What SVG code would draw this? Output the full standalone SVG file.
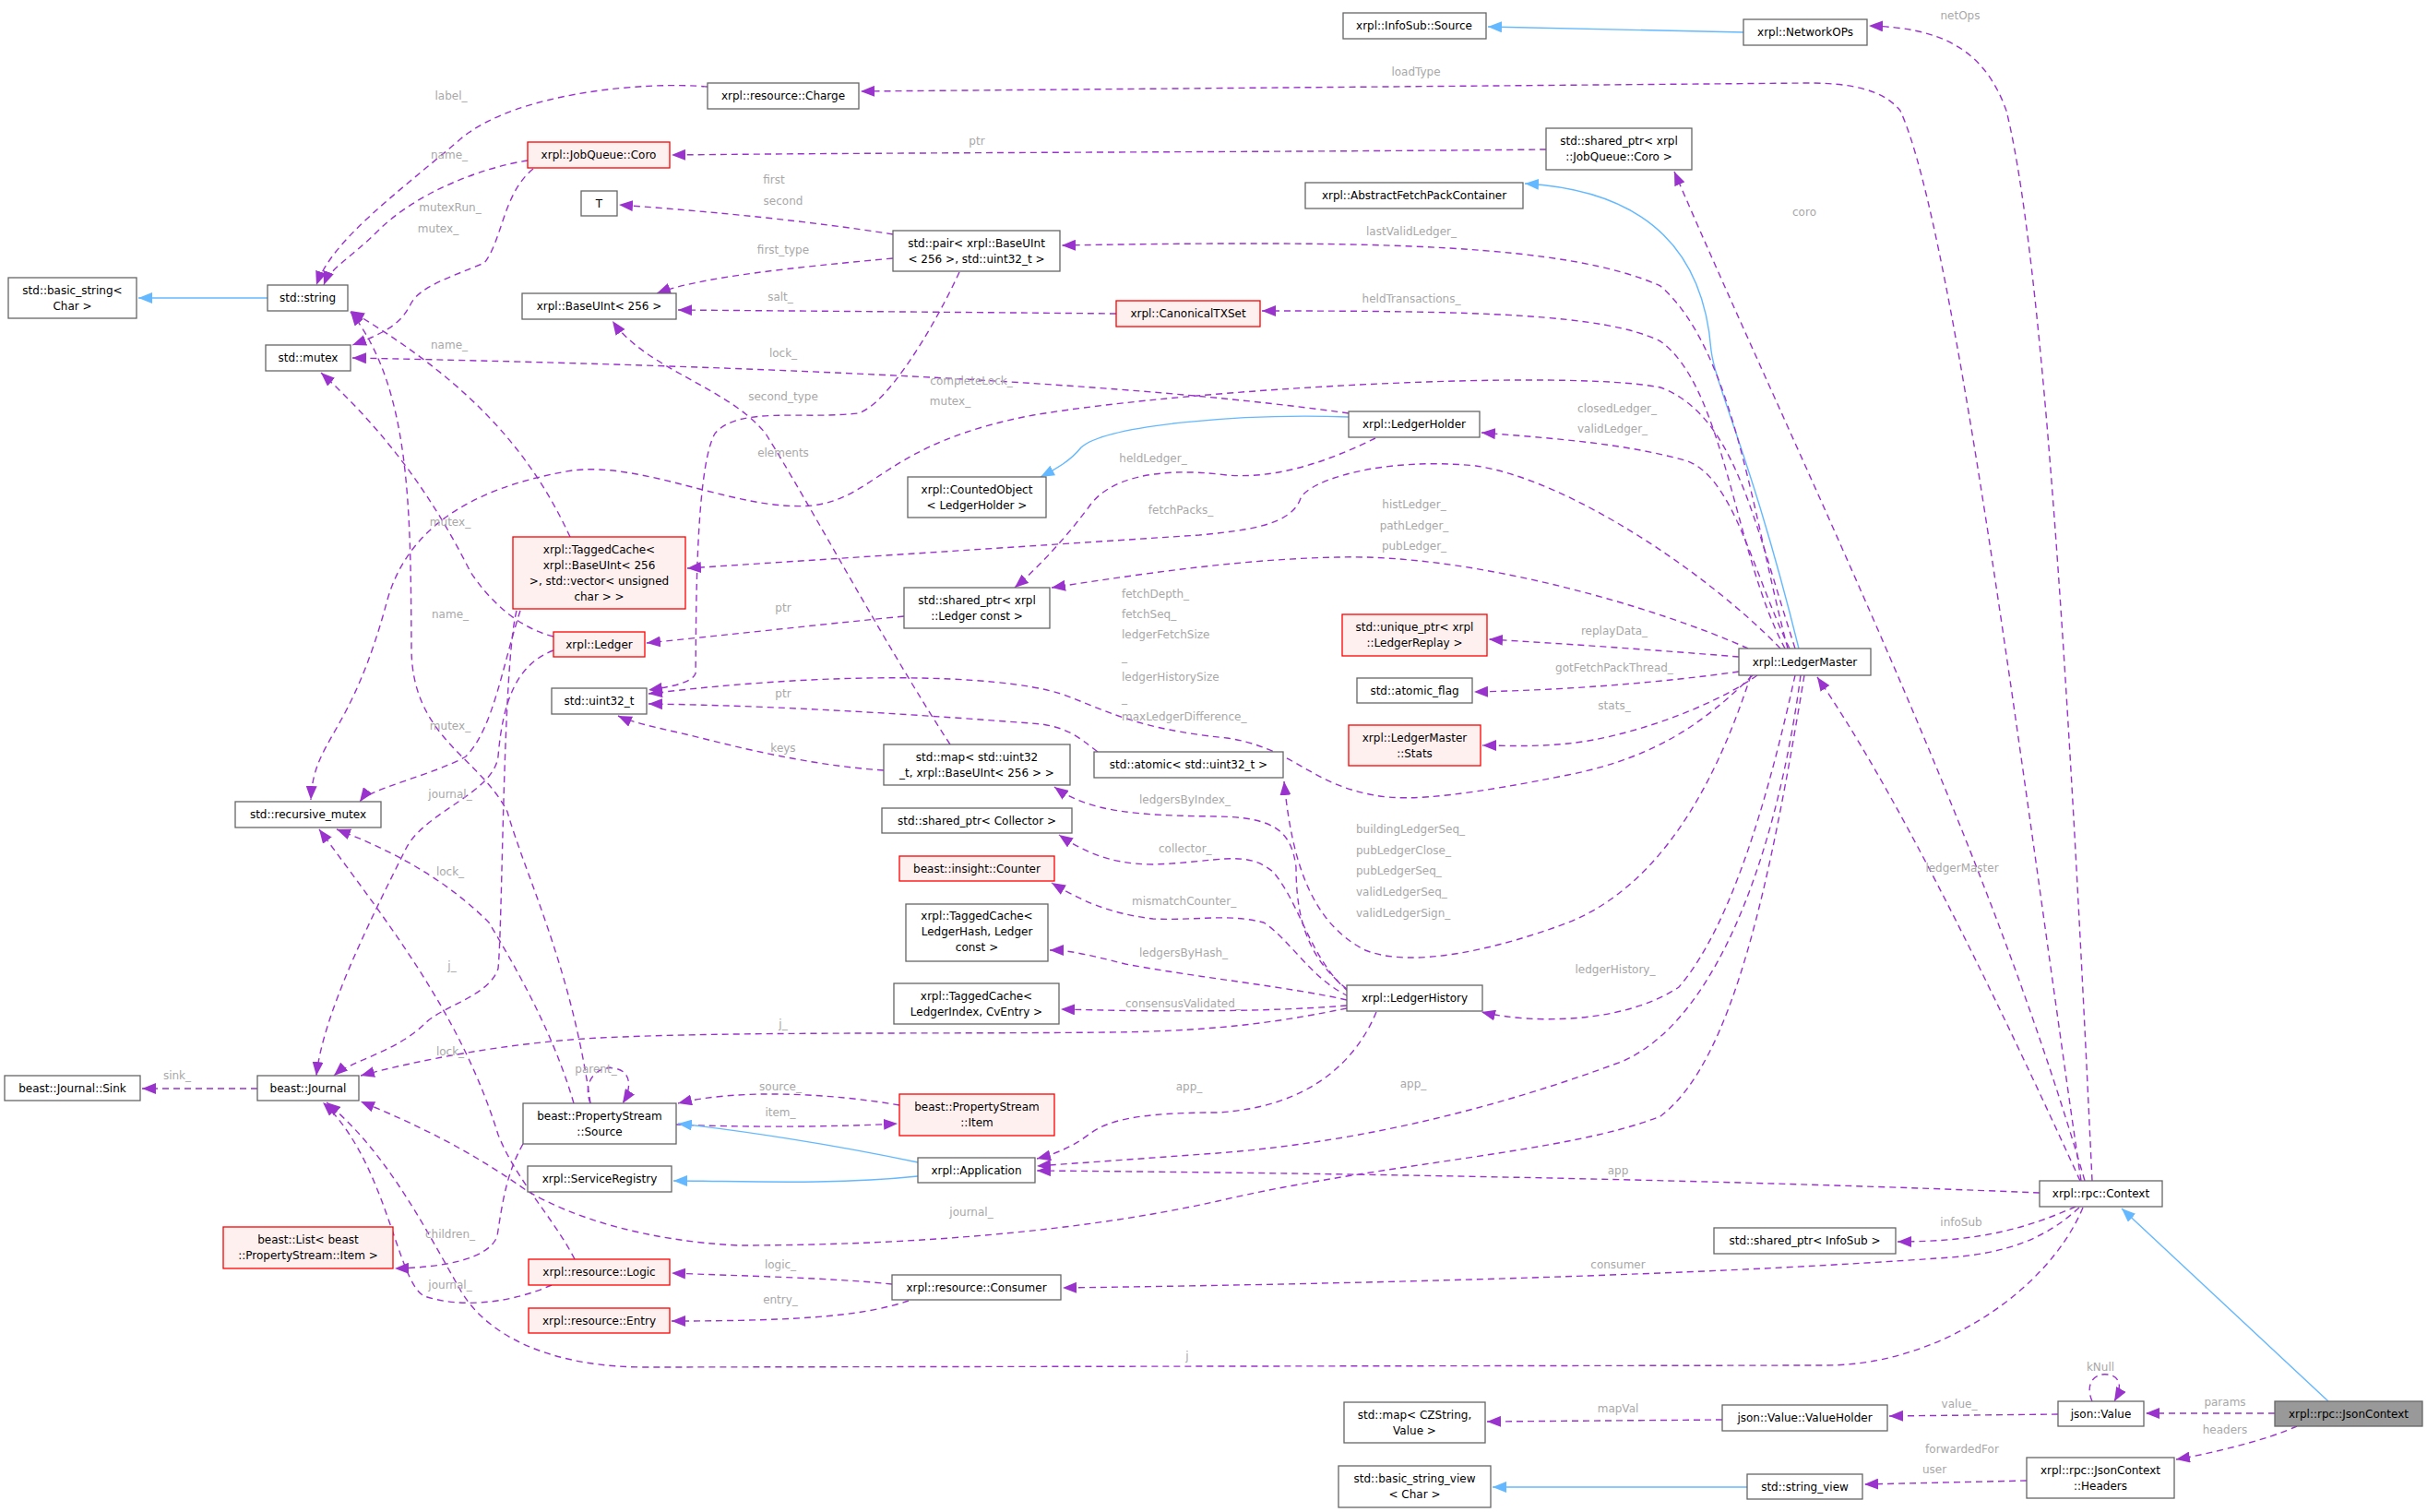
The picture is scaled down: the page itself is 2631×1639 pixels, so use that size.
<svg xmlns="http://www.w3.org/2000/svg" width="2631" height="1639" viewBox="0 0 2631 1639">
<style>
text{font-family:"DejaVu Sans","Liberation Sans",sans-serif;font-size:12px;fill:#000;text-anchor:middle}
.n{fill:#fff;stroke:#666;stroke-width:1.3}
.r{fill:#fff0f0;stroke:#f00;stroke-width:1.3}
.g{fill:#999;stroke:#666;stroke-width:1.3}
.e{fill:none;stroke:#9a32cd;stroke-width:1.4;stroke-dasharray:7,5;marker-end:url(#ap)}
.i{fill:none;stroke:#63b8ff;stroke-width:1.4;marker-end:url(#ab)}
.l{fill:#a8a8a8;font-size:12px}
.s{text-anchor:start}
</style>
<defs>
<marker id="ap" markerUnits="userSpaceOnUse" markerWidth="16" markerHeight="12" refX="15" refY="6" orient="auto"><path d="M0,0 L15,6 L0,12 z" fill="#9a32cd"/></marker>
<marker id="ab" markerUnits="userSpaceOnUse" markerWidth="16" markerHeight="12" refX="15" refY="6" orient="auto"><path d="M0,0 L15,6 L0,12 z" fill="#63b8ff"/></marker>
</defs>
<rect width="2631" height="1639" fill="#fff"/>
<g id="edges">
<path class="i" d="M1890,35 L1613,29"/>
<path class="e" d="M2268,1280 C 2250,900 2220,300 2175,120 C 2150,50 2100,30 2026,28"/>
<path class="e" d="M2256,1280 C 2200,900 2120,250 2060,120 C 2040,95 2000,90 1960,90 L 933,99"/>
<path class="e" d="M1676,162 C 1400,165 1000,165 728,168"/>
<path class="e" d="M2260,1280 C 2150,900 1950,500 1815,186"/>
<path class="i" d="M1950,703 C 1900,500 1860,420 1855,380 C 1845,250 1760,205 1653,199"/>
<path class="i" d="M1462,452 C 1350,448 1200,460 1172,485 C 1160,500 1145,508 1128,517"/>
<path class="e" d="M767,94 C 700,88 560,100 500,150 C 430,210 360,260 343,309"/>
<path class="e" d="M572,174 C 520,182 450,210 410,250 C 380,280 358,290 351,309"/>
<path class="e" d="M578,183 C 545,210 545,260 525,285 C 490,300 455,310 445,330 C 435,350 420,360 382,374"/>
<path class="e" d="M968,254 C 880,240 780,230 671,222"/>
<path class="e" d="M968,280 C 860,290 760,300 712,318"/>
<path class="e" d="M1040,295 C 1010,360 960,440 930,448 C 870,455 800,440 775,470 C 752,510 755,700 754,730 C 750,740 730,744 703,748"/>
<path class="e" d="M1210,340 C 1000,338 850,337 735,336"/>
<path class="e" d="M1935,703 C 1880,600 1870,420 1800,370 C 1740,340 1600,337 1368,337"/>
<path class="e" d="M1938,703 C 1900,560 1880,380 1800,310 C 1700,265 1500,260 1151,266"/>
<path class="e" d="M1462,448 C 1300,425 1000,400 382,388"/>
<path class="e" d="M1946,703 C 1900,560 1880,450 1800,420 C 1700,400 1300,420 1120,450 C 960,480 950,540 880,548 C 800,555 700,500 620,510 C 500,530 440,580 420,650 C 380,800 340,800 337,867"/>
<path class="e" d="M1491,475 C 1450,495 1390,520 1330,515 C 1250,505 1200,520 1180,550 C 1150,590 1120,620 1100,637"/>
<path class="e" d="M1930,703 C 1850,620 1700,520 1600,505 C 1500,495 1420,520 1410,540 C 1400,570 1350,575 1300,580 L 745,616"/>
<path class="e" d="M1895,703 C 1800,660 1600,600 1450,604 C 1350,606 1250,620 1140,637"/>
<path class="e" d="M1940,703 C 1900,620 1880,520 1830,500 C 1760,480 1680,475 1606,469"/>
<path class="e" d="M980,668 C 880,678 790,688 701,697"/>
<path class="e" d="M618,582 C 580,500 520,420 380,337"/>
<path class="e" d="M564,662 C 545,720 535,790 505,820 C 470,840 400,855 390,869"/>
<path class="e" d="M600,705 C 560,720 545,760 540,820 C 535,860 460,880 440,920 C 400,1000 350,1100 343,1166"/>
<path class="e" d="M560,662 C 545,720 545,1000 540,1050 C 530,1080 480,1090 460,1110 C 430,1140 380,1150 362,1166"/>
<path class="e" d="M640,1196 C 620,1050 570,950 550,880 C 520,820 445,800 446,700 C 445,550 445,420 380,338"/>
<path class="e" d="M600,690 C 560,680 530,650 510,620 C 470,540 420,470 348,404"/>
<path class="e" d="M1030,807 C 960,700 880,550 830,470 C 790,420 700,400 664,348"/>
<path class="e" d="M958,835 C 880,830 800,810 760,800 C 720,790 690,785 670,776"/>
<path class="e" d="M1190,815 C 1170,800 1160,790 1130,785 C 1000,775 850,765 703,763"/>
<path class="e" d="M1900,732 C 1850,780 1800,820 1700,840 C 1600,860 1530,870 1490,862 C 1420,850 1400,810 1330,800 C 1230,790 1200,770 1150,752 C 1080,730 900,728 703,752"/>
<path class="e" d="M1885,712 C 1800,705 1700,698 1614,693"/>
<path class="e" d="M1885,728 C 1800,740 1700,748 1598,750"/>
<path class="e" d="M1905,732 C 1850,770 1760,800 1700,806 C 1660,810 1630,808 1607,808"/>
<path class="e" d="M1898,732 C 1860,850 1800,960 1700,1000 C 1620,1030 1530,1050 1480,1030 C 1420,1000 1400,930 1392,847"/>
<path class="e" d="M1460,1072 C 1420,1040 1405,1000 1405,940 C 1400,900 1380,886 1320,885 C 1230,884 1180,880 1143,853"/>
<path class="e" d="M1462,1075 C 1420,1040 1410,980 1380,945 C 1350,920 1320,935 1250,937 C 1200,937 1170,920 1148,905"/>
<path class="e" d="M1462,1080 C 1420,1060 1400,1020 1370,1000 C 1330,990 1300,998 1250,996 C 1200,990 1170,975 1140,957"/>
<path class="e" d="M1460,1084 C 1400,1070 1300,1060 1220,1045 C 1180,1035 1160,1030 1138,1030"/>
<path class="e" d="M1460,1090 C 1400,1095 1300,1098 1150,1094"/>
<path class="e" d="M1460,1093 C 1400,1105 1330,1118 1200,1119 C 1000,1121 800,1118 650,1125 C 550,1130 450,1150 391,1166"/>
<path class="e" d="M1492,1097 C 1470,1150 1420,1200 1320,1206 C 1230,1206 1200,1215 1180,1230 C 1160,1245 1140,1252 1124,1256"/>
<path class="e" d="M1946,732 C 1920,850 1880,1000 1820,1070 C 1760,1110 1660,1110 1606,1097"/>
<path class="e" d="M1952,732 C 1930,900 1870,1100 1760,1150 C 1600,1210 1450,1240 1320,1250 L 1124,1264"/>
<path class="e" d="M1956,732 C 1920,950 1880,1150 1800,1210 C 1700,1250 1500,1260 1320,1302 C 1150,1340 950,1350 800,1350 C 700,1345 620,1320 570,1290 C 500,1240 430,1210 391,1194"/>
<path class="e" d="M2255,1280 C 2150,1050 2050,850 1970,734"/>
<path class="e" d="M2211,1293 C 1900,1280 1500,1272 1124,1269"/>
<path class="e" d="M2250,1308 C 2200,1330 2150,1346 2057,1346"/>
<path class="e" d="M2254,1309 C 2220,1340 2180,1360 2100,1364 C 1900,1378 1600,1390 1152,1396"/>
<path class="e" d="M2258,1309 C 2220,1400 2100,1480 1980,1480 L 700,1482 C 600,1482 530,1450 500,1400 C 460,1330 420,1250 354,1195"/>
<path class="e" d="M279,1180 L 154,1180"/>
<path class="e" d="M967,1392 C 900,1385 800,1383 728,1380"/>
<path class="e" d="M985,1410 C 940,1425 880,1432 728,1432"/>
<path class="e" d="M598,1393 C 560,1410 505,1420 460,1405 C 430,1390 420,1260 350,1195"/>
<path class="e" d="M567,1240 C 550,1270 545,1300 539,1340 C 530,1365 480,1374 428,1375"/>
<path class="e" d="M623,1365 C 600,1320 560,1280 540,1230 C 500,1100 420,1000 346,899"/>
<path class="e" d="M622,1196 C 600,1120 560,1050 530,1000 C 480,950 420,920 365,899"/>
<path class="e" d="M640,1196 C 630,1170 650,1155 665,1158 C 685,1160 685,1180 675,1196"/>
<path class="e" d="M975,1198 C 900,1185 800,1180 735,1196"/>
<path class="e" d="M733,1219 C 800,1222 900,1222 973,1218"/>
<path class="i" d="M995,1260 C 900,1240 800,1225 735,1218"/>
<path class="i" d="M995,1275 C 900,1285 800,1280 730,1280"/>
<path class="i" d="M2524,1519 L 2300,1310"/>
<path class="e" d="M2466,1532 L 2326,1532"/>
<path class="e" d="M2490,1546 C 2460,1560 2400,1575 2359,1582"/>
<path class="e" d="M2268,1519 C 2260,1500 2270,1488 2285,1490 C 2300,1492 2300,1505 2292,1519"/>
<path class="e" d="M2231,1533 L 2048,1535"/>
<path class="e" d="M1867,1539 L 1612,1541"/>
<path class="e" d="M2197,1605 L 2021,1609"/>
<path class="i" d="M1894,1612 L 1618,1612"/>
<path class="i" d="M290,323 L 150,323"/>
</g>
<g id="labels">
<text class="l" x="2125" y="21">netOps</text>
<text class="l" x="1535" y="82">loadType</text>
<text class="l" x="1059" y="157">ptr</text>
<text class="l" x="1956" y="234">coro</text>
<text class="l" x="489" y="108">label_</text>
<text class="l" x="487" y="172">name_</text>
<text class="l" x="488" y="229">mutexRun_</text>
<text class="l" x="475" y="252">mutex_</text>
<text class="l" x="839" y="199">first</text>
<text class="l" x="849" y="222">second</text>
<text class="l" x="849" y="275">first_type</text>
<text class="l" x="849" y="434">second_type</text>
<text class="l" x="846" y="326">salt_</text>
<text class="l" x="1530" y="328">heldTransactions_</text>
<text class="l" x="1530" y="255">lastValidLedger_</text>
<text class="l" x="849" y="387">lock_</text>
<text class="l" x="1053" y="417">completeLock_</text>
<text class="l" x="1030" y="439">mutex_</text>
<text class="l" x="1250" y="501">heldLedger_</text>
<text class="l" x="1280" y="557">fetchPacks_</text>
<text class="l" x="1533" y="551">histLedger_</text>
<text class="l" x="1533" y="574">pathLedger_</text>
<text class="l" x="1533" y="596">pubLedger_</text>
<text class="l" x="1753" y="447">closedLedger_</text>
<text class="l" x="1748" y="469">validLedger_</text>
<text class="l" x="849" y="663">ptr</text>
<text class="l" x="487" y="378">name_</text>
<text class="l" x="488" y="791">mutex_</text>
<text class="l" x="488" y="865">journal_</text>
<text class="l" x="490" y="1051">j_</text>
<text class="l" x="488" y="670">name_</text>
<text class="l" x="488" y="570">mutex_</text>
<text class="l" x="849" y="495">elements</text>
<text class="l" x="849" y="815">keys</text>
<text class="l" x="849" y="756">ptr</text>
<text class="l s" x="1216" y="648">fetchDepth_</text>
<text class="l s" x="1216" y="670">fetchSeq_</text>
<text class="l s" x="1216" y="692">ledgerFetchSize</text>
<text class="l s" x="1216" y="716">_</text>
<text class="l s" x="1216" y="738">ledgerHistorySize</text>
<text class="l s" x="1216" y="761">_</text>
<text class="l s" x="1216" y="781">maxLedgerDifference_</text>
<text class="l" x="1750" y="688">replayData_</text>
<text class="l" x="1750" y="728">gotFetchPackThread_</text>
<text class="l" x="1750" y="769">stats_</text>
<text class="l s" x="1470" y="903">buildingLedgerSeq_</text>
<text class="l s" x="1470" y="926">pubLedgerClose_</text>
<text class="l s" x="1470" y="948">pubLedgerSeq_</text>
<text class="l s" x="1470" y="971">validLedgerSeq_</text>
<text class="l s" x="1470" y="994">validLedgerSign_</text>
<text class="l s" x="1235" y="871">ledgersByIndex_</text>
<text class="l s" x="1256" y="924">collector_</text>
<text class="l s" x="1227" y="981">mismatchCounter_</text>
<text class="l s" x="1235" y="1037">ledgersByHash_</text>
<text class="l s" x="1220" y="1092">consensusValidated_</text>
<text class="l" x="849" y="1114">j_</text>
<text class="l" x="1289" y="1182">app_</text>
<text class="l" x="1751" y="1055">ledgerHistory_</text>
<text class="l" x="1532" y="1179">app_</text>
<text class="l" x="1053" y="1318">journal_</text>
<text class="l" x="2127" y="945">ledgerMaster</text>
<text class="l" x="1754" y="1273">app</text>
<text class="l" x="2126" y="1329">infoSub</text>
<text class="l" x="1754" y="1375">consumer</text>
<text class="l" x="1287" y="1474">j</text>
<text class="l" x="192" y="1170">sink_</text>
<text class="l" x="846" y="1375">logic_</text>
<text class="l" x="846" y="1413">entry_</text>
<text class="l" x="488" y="1397">journal_</text>
<text class="l" x="488" y="1342">children_</text>
<text class="l" x="488" y="1144">lock_</text>
<text class="l" x="488" y="949">lock_</text>
<text class="l" x="646" y="1163">parent_</text>
<text class="l" x="846" y="1182">source_</text>
<text class="l" x="846" y="1210">item_</text>
<text class="l" x="2412" y="1524">params</text>
<text class="l" x="2412" y="1554">headers</text>
<text class="l" x="2277" y="1486">kNull</text>
<text class="l" x="2124" y="1526">value_</text>
<text class="l" x="1754" y="1531">mapVal</text>
<text class="l" x="2127" y="1575">forwardedFor</text>
<text class="l" x="2097" y="1597">user</text>
</g>
<g id="n_infosub"><rect class="n" x="1456" y="14" width="155" height="28"/><text x="1533" y="32">xrpl::InfoSub::Source</text></g>
<g id="n_netops"><rect class="n" x="1890" y="21" width="134" height="28"/><text x="1957" y="39">xrpl::NetworkOPs</text></g>
<g id="n_charge"><rect class="n" x="767" y="90" width="164" height="28"/><text x="849" y="108">xrpl::resource::Charge</text></g>
<g id="n_sharedcoro"><rect class="n" x="1676" y="139" width="158" height="45"/><text x="1755" y="157">std::shared_ptr&lt; xrpl</text><text x="1755" y="174">::JobQueue::Coro &gt;</text></g>
<g id="n_coro"><rect class="r" x="572" y="154" width="154" height="28"/><text x="649" y="172">xrpl::JobQueue::Coro</text></g>
<g id="n_abstract"><rect class="n" x="1415" y="198" width="236" height="28"/><text x="1533" y="216">xrpl::AbstractFetchPackContainer</text></g>
<g id="n_T"><rect class="n" x="630" y="207" width="39" height="27"/><text x="649.5" y="225">T</text></g>
<g id="n_pair"><rect class="n" x="968" y="250" width="181" height="44"/><text x="1058.5" y="268">std::pair&lt; xrpl::BaseUInt</text><text x="1058.5" y="285">&lt; 256 &gt;, std::uint32_t &gt;</text></g>
<g id="n_basicstring"><rect class="n" x="9" y="301" width="139" height="44"/><text x="78.5" y="319">std::basic_string&lt;</text><text x="78.5" y="336">Char &gt;</text></g>
<g id="n_string"><rect class="n" x="290" y="309" width="87" height="28"/><text x="333.5" y="327">std::string</text></g>
<g id="n_baseuint"><rect class="n" x="566" y="318" width="167" height="28"/><text x="649.5" y="336">xrpl::BaseUInt&lt; 256 &gt;</text></g>
<g id="n_canon"><rect class="r" x="1210" y="326" width="156" height="28"/><text x="1288" y="344">xrpl::CanonicalTXSet</text></g>
<g id="n_mutex"><rect class="n" x="288" y="374" width="92" height="28"/><text x="334" y="392">std::mutex</text></g>
<g id="n_holder"><rect class="n" x="1462" y="446" width="142" height="28"/><text x="1533" y="464">xrpl::LedgerHolder</text></g>
<g id="n_counted"><rect class="n" x="984" y="517" width="150" height="44"/><text x="1059" y="535">xrpl::CountedObject</text><text x="1059" y="552">&lt; LedgerHolder &gt;</text></g>
<g id="n_tagged"><rect class="r" x="556" y="582" width="187" height="78"/><text x="649.5" y="600">xrpl::TaggedCache&lt;</text><text x="649.5" y="617">xrpl::BaseUInt&lt; 256</text><text x="649.5" y="634">&gt;, std::vector&lt; unsigned</text><text x="649.5" y="651">char &gt; &gt;</text></g>
<g id="n_sharedledger"><rect class="n" x="980" y="637" width="158" height="44"/><text x="1059" y="655">std::shared_ptr&lt; xrpl</text><text x="1059" y="672">::Ledger const &gt;</text></g>
<g id="n_replay"><rect class="r" x="1455" y="666" width="157" height="45"/><text x="1533.5" y="684">std::unique_ptr&lt; xrpl</text><text x="1533.5" y="701">::LedgerReplay &gt;</text></g>
<g id="n_ledger"><rect class="r" x="600" y="685" width="99" height="27"/><text x="649.5" y="703">xrpl::Ledger</text></g>
<g id="n_lm"><rect class="n" x="1885" y="703" width="143" height="29"/><text x="1956.5" y="722">xrpl::LedgerMaster</text></g>
<g id="n_atomicflag"><rect class="n" x="1471" y="735" width="125" height="27"/><text x="1533.5" y="753">std::atomic_flag</text></g>
<g id="n_uint32"><rect class="n" x="598" y="746" width="103" height="28"/><text x="649.5" y="764">std::uint32_t</text></g>
<g id="n_stats"><rect class="r" x="1462" y="786" width="143" height="44"/><text x="1533.5" y="804">xrpl::LedgerMaster</text><text x="1533.5" y="821">::Stats</text></g>
<g id="n_map"><rect class="n" x="958" y="807" width="202" height="44"/><text x="1059" y="825">std::map&lt; std::uint32</text><text x="1059" y="842">_t, xrpl::BaseUInt&lt; 256 &gt; &gt;</text></g>
<g id="n_atomic"><rect class="n" x="1186" y="815" width="205" height="28"/><text x="1288.5" y="833">std::atomic&lt; std::uint32_t &gt;</text></g>
<g id="n_rmutex"><rect class="n" x="255" y="869" width="158" height="28"/><text x="334" y="887">std::recursive_mutex</text></g>
<g id="n_collector"><rect class="n" x="956" y="876" width="206" height="27"/><text x="1059" y="894">std::shared_ptr&lt; Collector &gt;</text></g>
<g id="n_counter"><rect class="r" x="975" y="928" width="168" height="27"/><text x="1059" y="946">beast::insight::Counter</text></g>
<g id="n_tchash"><rect class="n" x="982" y="980" width="154" height="62"/><text x="1059" y="997">xrpl::TaggedCache&lt;</text><text x="1059" y="1014">LedgerHash, Ledger</text><text x="1059" y="1031">const &gt;</text></g>
<g id="n_tcindex"><rect class="n" x="969" y="1066" width="179" height="44"/><text x="1058.5" y="1084">xrpl::TaggedCache&lt;</text><text x="1058.5" y="1101">LedgerIndex, CvEntry &gt;</text></g>
<g id="n_history"><rect class="n" x="1460" y="1068" width="147" height="28"/><text x="1533.5" y="1086">xrpl::LedgerHistory</text></g>
<g id="n_sink"><rect class="n" x="5" y="1166" width="147" height="27"/><text x="78.5" y="1184">beast::Journal::Sink</text></g>
<g id="n_journal"><rect class="n" x="279" y="1166" width="110" height="27"/><text x="334" y="1184">beast::Journal</text></g>
<g id="n_item"><rect class="r" x="975" y="1186" width="168" height="45"/><text x="1059" y="1204">beast::PropertyStream</text><text x="1059" y="1221">::Item</text></g>
<g id="n_source"><rect class="n" x="567" y="1196" width="166" height="44"/><text x="650" y="1214">beast::PropertyStream</text><text x="650" y="1231">::Source</text></g>
<g id="n_app"><rect class="n" x="995" y="1255" width="127" height="27"/><text x="1058.5" y="1273">xrpl::Application</text></g>
<g id="n_registry"><rect class="n" x="572" y="1264" width="156" height="28"/><text x="650" y="1282">xrpl::ServiceRegistry</text></g>
<g id="n_context"><rect class="n" x="2211" y="1280" width="133" height="28"/><text x="2277.5" y="1298">xrpl::rpc::Context</text></g>
<g id="n_list"><rect class="r" x="242" y="1330" width="184" height="45"/><text x="334" y="1348">beast::List&lt; beast</text><text x="334" y="1365">::PropertyStream::Item &gt;</text></g>
<g id="n_infosubptr"><rect class="n" x="1858" y="1331" width="197" height="28"/><text x="1956.5" y="1349">std::shared_ptr&lt; InfoSub &gt;</text></g>
<g id="n_logic"><rect class="r" x="573" y="1365" width="153" height="28"/><text x="649.5" y="1383">xrpl::resource::Logic</text></g>
<g id="n_consumer"><rect class="n" x="967" y="1382" width="183" height="27"/><text x="1058.5" y="1400">xrpl::resource::Consumer</text></g>
<g id="n_entry"><rect class="r" x="573" y="1418" width="153" height="27"/><text x="649.5" y="1436">xrpl::resource::Entry</text></g>
<g id="n_jsonvalue"><rect class="n" x="2231" y="1519" width="93" height="27"/><text x="2277.5" y="1537">json::Value</text></g>
<g id="n_jsonctx"><rect class="g" x="2466" y="1519" width="160" height="27"/><text x="2546" y="1537">xrpl::rpc::JsonContext</text></g>
<g id="n_czmap"><rect class="n" x="1457" y="1520" width="153" height="44"/><text x="1533.5" y="1538">std::map&lt; CZString,</text><text x="1533.5" y="1555">Value &gt;</text></g>
<g id="n_valueholder"><rect class="n" x="1867" y="1523" width="179" height="28"/><text x="1956.5" y="1541">json::Value::ValueHolder</text></g>
<g id="n_headers"><rect class="n" x="2197" y="1580" width="160" height="44"/><text x="2277" y="1598">xrpl::rpc::JsonContext</text><text x="2277" y="1615">::Headers</text></g>
<g id="n_bsv"><rect class="n" x="1451" y="1589" width="165" height="45"/><text x="1533.5" y="1607">std::basic_string_view</text><text x="1533.5" y="1624">&lt; Char &gt;</text></g>
<g id="n_sv"><rect class="n" x="1894" y="1598" width="125" height="27"/><text x="1956.5" y="1616">std::string_view</text></g>
</svg>
